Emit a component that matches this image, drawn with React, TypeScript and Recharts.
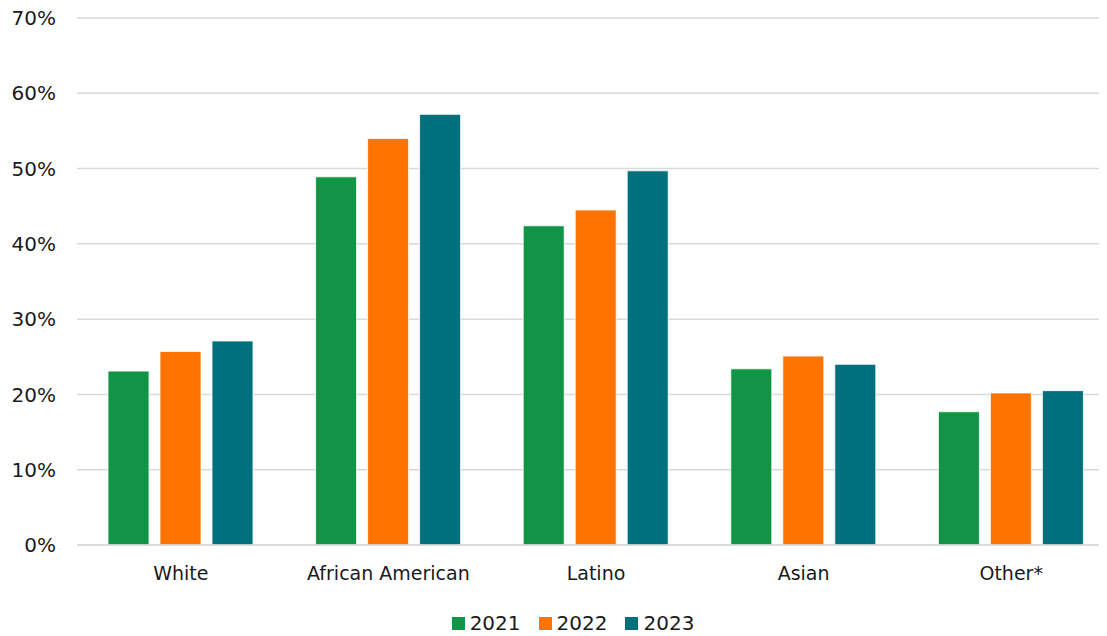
import React from 'react';
import { BarChart, Bar, XAxis, YAxis, CartesianGrid, Legend } from 'recharts';

const categories = ['White', 'African American', 'Latino', 'Asian', 'Other*'];
const years = ['2021', '2022', '2023'];
const v2021 = [23.1, 48.9, 42.4, 23.4, 17.7];
const v2022 = [25.7, 54.0, 44.5, 25.1, 20.2];
const v2023 = [27.1, 57.2, 49.7, 24.0, 20.5];
const yTicks = [0, 10, 20, 30, 40, 50, 60, 70];
const colors = ['#129447', '#FF7300', '#00707C'];

const data = categories.map((c, i) => ({
  name: c,
  '2021': v2021[i],
  '2022': v2022[i],
  '2023': v2023[i],
}));

const FONT = '"DejaVu Sans", sans-serif';

const LegendContent = () => (
  <div style={{ height: 26, display: 'flex', justifyContent: 'center', alignItems: 'center', fontFamily: FONT, fontSize: 20, color: '#1a1a1a', paddingLeft: 31 }}>
    {years.map((y, i) => (
      <div key={y} style={{ display: 'flex', alignItems: 'center', marginRight: i < years.length - 1 ? 18 : 0 }}>
        <div style={{ width: 13, height: 13, background: colors[i], marginRight: 5 }} />
        <span>{y}</span>
      </div>
    ))}
  </div>
);

export default function App() {
  return (
    <div style={{ margin: '-8px 0 0 -8px', width: 1107, height: 636, overflow: 'hidden', background: '#fff' }}>
      <BarChart
        width={1115}
        height={636}
        data={data}
        margin={{ top: 18, right: 0, left: 0, bottom: 0 }}
        barGap={11}
        barCategoryGap={31}
      >
        <CartesianGrid vertical={false} stroke="#d9d9d9" strokeWidth={1.5} />
        <XAxis
          dataKey="name"
          tickLine={false}
          axisLine={{ stroke: '#d9d9d9', strokeWidth: 1.5 }}
          tick={{ fill: '#1a1a1a', fontSize: 19, fontFamily: FONT }}
          tickMargin={16}
          height={65}
          interval={0}
        />
        <YAxis
          domain={[0, 70]}
          ticks={yTicks}
          tickFormatter={(v) => `${v}%`}
          tickLine={false}
          axisLine={false}
          tick={{ fill: '#1a1a1a', fontSize: 20, fontFamily: FONT }}
          tickMargin={15}
          width={77}
          interval={0}
        />
        <Legend verticalAlign="bottom" height={26} content={<LegendContent />} />
        {years.map((y, i) => (
          <Bar key={y} dataKey={y} fill={colors[i]} stroke="#ffffff" strokeWidth={0.8} isAnimationActive={false} />
        ))}
      </BarChart>
    </div>
  );
}
